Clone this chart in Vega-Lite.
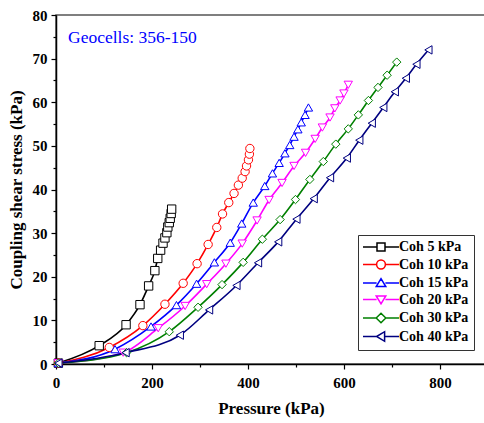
{
  "$schema": "https://vega.github.io/schema/vega-lite/v6.json",
  "width": 430,
  "height": 349,
  "autosize": {"type": "none"},
  "padding": {"left": 56, "top": 15, "right": 0, "bottom": 59},
  "config": {
    "view": {"stroke": "#555", "strokeWidth": 1.5},
    "axis": {
      "domainColor": "black", "domainWidth": 1.5, "tickColor": "black", "tickWidth": 1.2,
      "labelFont": "Liberation Serif", "labelFontWeight": "bold", "labelFontSize": 15, "labelColor": "black",
      "titleFont": "Liberation Serif", "titleFontWeight": "bold", "titleFontSize": 17, "titleColor": "black",
      "grid": false
    },
    "legend": {
      "orient": "none", "legendX": 302, "legendY": 220,
      "symbolSize": 64, "symbolStrokeWidth": 1.5, "symbolFillColor": "white", "padding": 5, "symbolOffset": 11, "labelOffset": 11, "rowPadding": 2.5,
      "strokeColor": "#333", "fillColor": "white",
      "labelFont": "Liberation Serif", "labelFontWeight": "bold", "labelFontSize": 14, "labelColor": "black"
    }
  },
  "data": {"values": [
    {"s": "Coh 5 kPa", "p": 5, "t": 0.2}, {"s": "Coh 5 kPa", "p": 90, "t": 4.2}, {"s": "Coh 5 kPa", "p": 146, "t": 9.0}, {"s": "Coh 5 kPa", "p": 175, "t": 13.6}, {"s": "Coh 5 kPa", "p": 193, "t": 17.9}, {"s": "Coh 5 kPa", "p": 206, "t": 21.4}, {"s": "Coh 5 kPa", "p": 212, "t": 24.2}, {"s": "Coh 5 kPa", "p": 218, "t": 26.1}, {"s": "Coh 5 kPa", "p": 223, "t": 27.7}, {"s": "Coh 5 kPa", "p": 227, "t": 28.9}, {"s": "Coh 5 kPa", "p": 231, "t": 30.1}, {"s": "Coh 5 kPa", "p": 233, "t": 31.4}, {"s": "Coh 5 kPa", "p": 236, "t": 32.4}, {"s": "Coh 5 kPa", "p": 238, "t": 33.4}, {"s": "Coh 5 kPa", "p": 240, "t": 34.5}, {"s": "Coh 5 kPa", "p": 241, "t": 35.5},
    {"s": "Coh 10 kPa", "p": 5, "t": 0.2}, {"s": "Coh 10 kPa", "p": 111, "t": 3.8}, {"s": "Coh 10 kPa", "p": 181, "t": 8.8}, {"s": "Coh 10 kPa", "p": 227, "t": 13.7}, {"s": "Coh 10 kPa", "p": 265, "t": 18.5}, {"s": "Coh 10 kPa", "p": 294, "t": 23.0}, {"s": "Coh 10 kPa", "p": 317, "t": 27.4}, {"s": "Coh 10 kPa", "p": 335, "t": 31.3}, {"s": "Coh 10 kPa", "p": 347, "t": 34.4}, {"s": "Coh 10 kPa", "p": 360, "t": 37.0}, {"s": "Coh 10 kPa", "p": 371, "t": 39.1}, {"s": "Coh 10 kPa", "p": 380, "t": 41.0}, {"s": "Coh 10 kPa", "p": 388, "t": 42.6}, {"s": "Coh 10 kPa", "p": 394, "t": 44.1}, {"s": "Coh 10 kPa", "p": 397, "t": 45.4}, {"s": "Coh 10 kPa", "p": 401, "t": 46.8}, {"s": "Coh 10 kPa", "p": 403, "t": 48.1}, {"s": "Coh 10 kPa", "p": 404, "t": 49.4},
    {"s": "Coh 15 kPa", "p": 5, "t": 0.2}, {"s": "Coh 15 kPa", "p": 123, "t": 3.4}, {"s": "Coh 15 kPa", "p": 198, "t": 8.6}, {"s": "Coh 15 kPa", "p": 251, "t": 13.5}, {"s": "Coh 15 kPa", "p": 293, "t": 18.4}, {"s": "Coh 15 kPa", "p": 330, "t": 23.3}, {"s": "Coh 15 kPa", "p": 363, "t": 27.8}, {"s": "Coh 15 kPa", "p": 387, "t": 32.2}, {"s": "Coh 15 kPa", "p": 411, "t": 37.0}, {"s": "Coh 15 kPa", "p": 435, "t": 40.8}, {"s": "Coh 15 kPa", "p": 451, "t": 43.7}, {"s": "Coh 15 kPa", "p": 465, "t": 46.1}, {"s": "Coh 15 kPa", "p": 477, "t": 48.3}, {"s": "Coh 15 kPa", "p": 487, "t": 50.2}, {"s": "Coh 15 kPa", "p": 496, "t": 52.1}, {"s": "Coh 15 kPa", "p": 504, "t": 53.8}, {"s": "Coh 15 kPa", "p": 511, "t": 55.4}, {"s": "Coh 15 kPa", "p": 519, "t": 57.1}, {"s": "Coh 15 kPa", "p": 526, "t": 58.8},
    {"s": "Coh 20 kPa", "p": 5, "t": 0.2}, {"s": "Coh 20 kPa", "p": 140, "t": 2.6}, {"s": "Coh 20 kPa", "p": 213, "t": 8.2}, {"s": "Coh 20 kPa", "p": 269, "t": 13.3}, {"s": "Coh 20 kPa", "p": 314, "t": 18.3}, {"s": "Coh 20 kPa", "p": 354, "t": 23.0}, {"s": "Coh 20 kPa", "p": 388, "t": 27.6}, {"s": "Coh 20 kPa", "p": 419, "t": 32.9}, {"s": "Coh 20 kPa", "p": 444, "t": 37.6}, {"s": "Coh 20 kPa", "p": 471, "t": 41.5}, {"s": "Coh 20 kPa", "p": 496, "t": 45.4}, {"s": "Coh 20 kPa", "p": 520, "t": 48.4}, {"s": "Coh 20 kPa", "p": 540, "t": 51.6}, {"s": "Coh 20 kPa", "p": 555, "t": 54.2}, {"s": "Coh 20 kPa", "p": 571, "t": 56.5}, {"s": "Coh 20 kPa", "p": 581, "t": 58.6}, {"s": "Coh 20 kPa", "p": 592, "t": 60.4}, {"s": "Coh 20 kPa", "p": 600, "t": 62.0}, {"s": "Coh 20 kPa", "p": 609, "t": 64.0},
    {"s": "Coh 30 kPa", "p": 5, "t": 0.2}, {"s": "Coh 30 kPa", "p": 147, "t": 2.6}, {"s": "Coh 30 kPa", "p": 236, "t": 7.4}, {"s": "Coh 30 kPa", "p": 296, "t": 13.0}, {"s": "Coh 30 kPa", "p": 346, "t": 18.2}, {"s": "Coh 30 kPa", "p": 390, "t": 23.3}, {"s": "Coh 30 kPa", "p": 430, "t": 28.6}, {"s": "Coh 30 kPa", "p": 467, "t": 33.1}, {"s": "Coh 30 kPa", "p": 499, "t": 37.7}, {"s": "Coh 30 kPa", "p": 529, "t": 42.3}, {"s": "Coh 30 kPa", "p": 557, "t": 46.4}, {"s": "Coh 30 kPa", "p": 583, "t": 50.4}, {"s": "Coh 30 kPa", "p": 609, "t": 53.9}, {"s": "Coh 30 kPa", "p": 630, "t": 57.1}, {"s": "Coh 30 kPa", "p": 651, "t": 60.4}, {"s": "Coh 30 kPa", "p": 671, "t": 63.4}, {"s": "Coh 30 kPa", "p": 690, "t": 66.2}, {"s": "Coh 30 kPa", "p": 710, "t": 69.2},
    {"s": "Coh 40 kPa", "p": 5, "t": 0.2}, {"s": "Coh 40 kPa", "p": 145, "t": 2.6}, {"s": "Coh 40 kPa", "p": 258, "t": 6.6}, {"s": "Coh 40 kPa", "p": 319, "t": 12.4}, {"s": "Coh 40 kPa", "p": 376, "t": 18.0}, {"s": "Coh 40 kPa", "p": 421, "t": 23.2}, {"s": "Coh 40 kPa", "p": 463, "t": 28.0}, {"s": "Coh 40 kPa", "p": 501, "t": 33.2}, {"s": "Coh 40 kPa", "p": 537, "t": 37.9}, {"s": "Coh 40 kPa", "p": 571, "t": 42.7}, {"s": "Coh 40 kPa", "p": 606, "t": 47.2}, {"s": "Coh 40 kPa", "p": 632, "t": 51.3}, {"s": "Coh 40 kPa", "p": 658, "t": 55.2}, {"s": "Coh 40 kPa", "p": 682, "t": 58.8}, {"s": "Coh 40 kPa", "p": 706, "t": 62.4}, {"s": "Coh 40 kPa", "p": 729, "t": 65.5}, {"s": "Coh 40 kPa", "p": 751, "t": 68.7}, {"s": "Coh 40 kPa", "p": 776, "t": 72.0}
  ]},
  "encoding": {
    "x": {"field": "p", "type": "quantitative", "scale": {"domain": [0, 896], "nice": false},
      "axis": {"title": "Pressure (kPa)", "values": [0, 100, 200, 300, 400, 500, 600, 700, 800],
        "labelExpr": "datum.value % 200 == 0 ? datum.label : ''",
        "tickSize": {"condition": {"test": "datum.value % 200 == 0", "value": 5}, "value": 3},
        "labelPadding": 6, "titlePadding": 10, "labelFlush": false}},
    "y": {"field": "t", "type": "quantitative", "scale": {"domain": [0, 80], "nice": false},
      "axis": {"title": "Coupling shear stress (kPa)", "values": [0, 5, 10, 15, 20, 25, 30, 35, 40, 45, 50, 55, 60, 65, 70, 75, 80],
        "labelExpr": "datum.value % 10 == 0 ? datum.label : ''",
        "tickSize": {"condition": {"test": "datum.value % 10 == 0", "value": 5}, "value": 3},
        "labelPadding": 4, "titlePadding": 7, "labelFlush": false}}
  },
  "resolve": {"scale": {"shape": "independent", "stroke": "independent"}},
  "layer": [
    {
      "mark": {"type": "line", "interpolate": "monotone", "strokeWidth": 1.6},
      "encoding": {
        "color": {"field": "s", "type": "nominal",
          "scale": {"domain": ["Coh 5 kPa", "Coh 10 kPa", "Coh 15 kPa", "Coh 20 kPa", "Coh 30 kPa", "Coh 40 kPa"],
                    "range": ["#000000", "#FF0000", "#0000FF", "#FF00FF", "#008000", "#000080"]},
          "legend": null
        }
      }
    },
    {
      "mark": {"type": "point", "filled": true, "fill": "white", "strokeWidth": 1, "size": 70, "opacity": 1},
      "encoding": {
        "stroke": {"field": "s", "type": "nominal",
          "scale": {"domain": ["Coh 5 kPa", "Coh 10 kPa", "Coh 15 kPa", "Coh 20 kPa", "Coh 30 kPa", "Coh 40 kPa"],
                    "range": ["#000000", "#FF0000", "#0000FF", "#FF00FF", "#008000", "#000080"]},
          "legend": null},
        "shape": {"field": "s", "type": "nominal",
          "scale": {"domain": ["Coh 5 kPa", "Coh 10 kPa", "Coh 15 kPa", "Coh 20 kPa", "Coh 30 kPa", "Coh 40 kPa"],
                    "range": ["square", "circle", "triangle-up", "triangle-down", "diamond", "triangle-left"]},
          "legend": null}
      }
    },
    {
      "transform": [{"filter": "datum.p < 0"}],
      "mark": {"type": "point", "filled": true, "fill": "white", "strokeWidth": 1.5, "size": 64, "opacity": 1},
      "encoding": {
        "stroke": {"field": "s", "type": "nominal",
          "scale": {"domain": ["Coh 5 kPa", "Coh 10 kPa", "Coh 15 kPa", "Coh 20 kPa", "Coh 30 kPa", "Coh 40 kPa"],
                    "range": ["#000000", "#FF0000", "#0000FF", "#FF00FF", "#008000", "#000080"]},
          "legend": {"title": null}},
        "shape": {"field": "s", "type": "nominal",
          "scale": {"domain": ["Coh 5 kPa", "Coh 10 kPa", "Coh 15 kPa", "Coh 20 kPa", "Coh 30 kPa", "Coh 40 kPa"],
                    "range": [
                      "M-4.5,0H-1M1,0H4.5M-1,-1H1V1H-1Z",
                      "M-4.5,0H-1.1M1.1,0H4.5M-1.1,0A1.1,1.1,0,1,0,1.1,0A1.1,1.1,0,1,0,-1.1,0Z",
                      "M-4.5,0H-1.1M1.1,0H4.5M0,-1.1L1.2,0.9H-1.2Z",
                      "M-4.5,0H-1.1M1.1,0H4.5M0,1.1L1.2,-0.9H-1.2Z",
                      "M-4.5,0H-1.2M1.2,0H4.5M0,-1.2L1.2,0L0,1.2L-1.2,0Z",
                      "M-4.5,0H-1M1,0H4.5M-1.1,0L0.9,-1.2V1.2Z"
                    ]},
          "legend": {"title": null}}
      }
    },
    {
      "data": {"values": [{"p": 25, "t": 74.7, "label": "Geocells: 356-150"}]},
      "mark": {"type": "text", "align": "left", "baseline": "middle", "font": "Liberation Serif", "fontSize": 17.5, "color": "#0000FF"},
      "encoding": {"text": {"field": "label", "type": "nominal"}}
    }
  ]
}
